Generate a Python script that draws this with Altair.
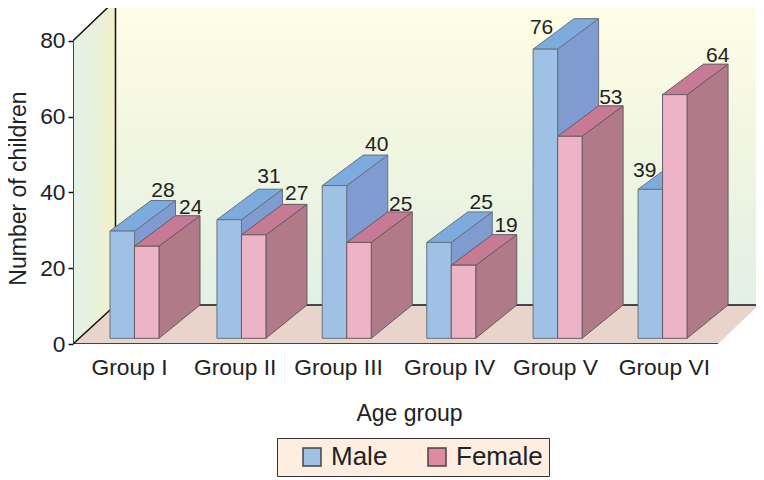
import altair as alt
import pandas as pd

groups = ["Group I", "Group II", "Group III", "Group IV", "Group V", "Group VI"]
male = [28, 31, 40, 25, 76, 39]
female = [24, 27, 25, 19, 53, 64]
sexes = ["Male", "Female"]

# layout, in axis units (one x unit = one group slot)
SLOT = 105.7
UNIT = 3.79
group_start = [0, 1.012, 2.008, 2.997, 4.003, 4.996]
label_at = [0.18, 1.18, 2.157, 3.208, 4.21, 5.24]
BAR = 24.5 / SLOT
DX = 41 / SLOT
DY_TOP = 30.5 / UNIT
DY_BASE = 33.3 / UNIT
BASE = 1.5
LIFT = 1.8
WALL_X = 0.052
AXIS_X = -0.35
RIGHT = AXIS_X + 683 / SLOT
FLOOR_Y = 10.29
FLOOR_FRONT = 5.752
FLOOR_BACK = 6.14
YMAX = 336 / UNIT
male_shift = [(-12.5, -4), (-13.5, -6), (-11, -4), (-11, -3), (-57, 15), (-58.8, 18)]
female_shift = [(-9.3, -2), (-10.3, -4), (-11.6, -1), (-10.7, -3), (-12.3, -2), (-10.3, -2)]

INK = "#222222"
FONT = "Liberation Sans"
XS = alt.Scale(domain=[AXIS_X, RIGHT], nice=False, zero=False)
YS = alt.Scale(domain=[0, YMAX], nice=False, zero=False)
AX = alt.Axis(
    title="Age group", values=label_at, grid=False, domain=False, ticks=False,
    labelExpr="%s[floor(datum.value)]" % str(groups),
    labelFont=FONT, labelFontSize=22.8, labelColor=INK, labelPadding=12,
    labelFlush=False, labelOverlap=False,
    titleFont=FONT, titleFontSize=23, titleFontWeight="normal", titleColor=INK,
    titleX=336, titleY=58, titleAnchor="middle",
)
AY = alt.Axis(
    title="Number of children", values=[0, 20, 40, 60, 80], grid=False, domain=False,
    tickSize=5, tickWidth=1.5, tickColor="#111111",
    labelFont=FONT, labelFontSize=22.8, labelColor=INK, labelPadding=3,
    titleFont=FONT, titleFontSize=23, titleFontWeight="normal", titleColor=INK,
    titleX=-43, titleY=180, titleAnchor="middle",
)
X = alt.X("x:Q", scale=XS, axis=AX)
Y = alt.Y("y:Q", scale=YS, axis=AY)


def faces(values, col):
    side, top, front, text = [], [], [], []
    x0 = col * BAR
    shift = male_shift if col == 0 else female_shift
    for i, v in enumerate(values):
        l = group_start[i] + x0
        r = l + BAR
        t = v + LIFT
        side += [
            dict(g=i, x=r, y=BASE, y2=t),
            dict(g=i, x=r + DX, y=BASE + DY_BASE, y2=t + DY_TOP),
        ]
        top += [
            dict(g=i, x=l, y=t, y2=t),
            dict(g=i, x=r, y=t, y2=t + DY_TOP * BAR / DX),
            dict(g=i, x=l + DX, y=t + DY_TOP * (DX - BAR) / DX, y2=t + DY_TOP),
            dict(g=i, x=r + DX, y=t + DY_TOP, y2=t + DY_TOP),
        ]
        front.append(dict(x=l, x2=r, y=BASE, y2=t))
        sx, sy = shift[i]
        text.append(dict(x=r + DX + sx / SLOT, y=t + DY_TOP - sy / UNIT, t=str(v)))
    return side, top, front, text


def poly(rows, fill, stroke=None):
    kw = dict(fill=fill, opacity=1, clip=True)
    if stroke:
        kw.update(stroke=stroke, strokeWidth=1, strokeJoin="round")
    return alt.Chart(pd.DataFrame(rows)).mark_area(**kw).encode(
        x=X, y=Y, y2="y2:Q", detail="g:N"
    )


def block(values, col, c_front, c_top, c_side, c_line):
    side, top, front, text = faces(values, col)
    rect = alt.Chart(pd.DataFrame(front)).mark_rect(
        fill=c_front, stroke=c_line, strokeWidth=1
    ).encode(x=X, x2="x2:Q", y=Y, y2="y2:Q")
    return [poly(side, c_side, c_line), poly(top, c_top, c_line), rect], text


# legend carrier, hidden behind the walls
key = alt.Chart(pd.DataFrame({"sex": sexes, "x": [1.0, 2.0], "y": [20.0, 20.0]})).mark_square(
    size=50, opacity=1
).encode(
    x=X,
    y=Y,
    color=alt.Color(
        "sex:N",
        scale=alt.Scale(domain=sexes, range=["#a0c1e6", "#df8a9e"]),
        legend=alt.Legend(
            title=None, orient="none", direction="horizontal", columns=2, legendX=204, legendY=430,
            fillColor="#fdeee0", strokeColor="#333333", cornerRadius=0, padding=6,
            symbolType="square", symbolSize=324, symbolStrokeColor="#444444", symbolStrokeWidth=1.5,
            symbolOffset=16, labelFont=FONT, labelFontSize=26, labelColor=INK,
            labelOffset=6, columnPadding=20, symbolOpacity=1,
        ),
    ),
)

wall = alt.Chart(pd.DataFrame([dict(x=WALL_X, x2=RIGHT, y=FLOOR_Y, y2=YMAX)])).mark_rect(
    fill=alt.Gradient(
        gradient="linear", x1=0, x2=0, y1=0, y2=1,
        stops=[alt.GradientStop(offset=0, color="#fffde6"),
               alt.GradientStop(offset=0.45, color="#f1f6e0"),
               alt.GradientStop(offset=1, color="#e2f0e6")],
    )
).encode(x=X, x2="x2:Q", y=Y, y2="y2:Q")

left_wall = poly(
    [dict(g=0, x=AXIS_X, y=0, y2=80), dict(g=0, x=WALL_X, y=FLOOR_Y, y2=80 + 40.7 / UNIT)],
    alt.Gradient(
        gradient="linear", x1=0, x2=1, y1=0, y2=0,
        stops=[alt.GradientStop(offset=0, color="#e2f1e8"),
               alt.GradientStop(offset=0.5, color="#e8f1dc"),
               alt.GradientStop(offset=1, color="#f4f0c8")],
    ),
)

floor = poly(
    [dict(g=0, x=AXIS_X, y=0, y2=0),
     dict(g=0, x=WALL_X, y=0, y2=FLOOR_Y),
     dict(g=0, x=FLOOR_FRONT, y=0, y2=FLOOR_Y),
     dict(g=0, x=FLOOR_BACK, y=FLOOR_Y, y2=FLOOR_Y)],
    "#e8d4cb",
)

edges = alt.Chart(pd.DataFrame([
    dict(x=AXIS_X, x2=AXIS_X, y=0, y2=80),
    dict(x=AXIS_X, x2=FLOOR_FRONT, y=0, y2=0),
    dict(x=AXIS_X, x2=WALL_X, y=0, y2=FLOOR_Y),
    dict(x=AXIS_X, x2=WALL_X, y=80, y2=80 + 40.7 / UNIT),
    dict(x=WALL_X, x2=WALL_X, y=FLOOR_Y, y2=YMAX),
    dict(x=WALL_X, x2=FLOOR_BACK, y=FLOOR_Y, y2=FLOOR_Y),
])).mark_rule(color="#111111", strokeWidth=1.5, clip=True).encode(x=X, x2="x2:Q", y=Y, y2="y2:Q")

m_layers, m_text = block(male, 0, "#a0c1e6", "#7eabdd", "#7f9bd0", "#66727e")
f_layers, f_text = block(female, 1, "#ecb4c6", "#c67a95", "#b07a88", "#665c62")

labels = alt.Chart(pd.DataFrame(m_text + f_text)).mark_text(
    font=FONT, fontSize=21, color=INK, baseline="alphabetic", align="center"
).encode(x=X, y=Y, text="t:N")

chart = alt.layer(
    key, wall, left_wall, floor, edges, *m_layers, *f_layers, labels
).properties(
    width=683, height=336,
    padding={"left": 65, "top": 0, "right": 0, "bottom": 135},
    autosize=alt.AutoSizeParams(type="none"),
    background="white",
).configure_view(stroke=None)

chart.save("out.html", embed_options={"renderer": "svg", "actions": False})
